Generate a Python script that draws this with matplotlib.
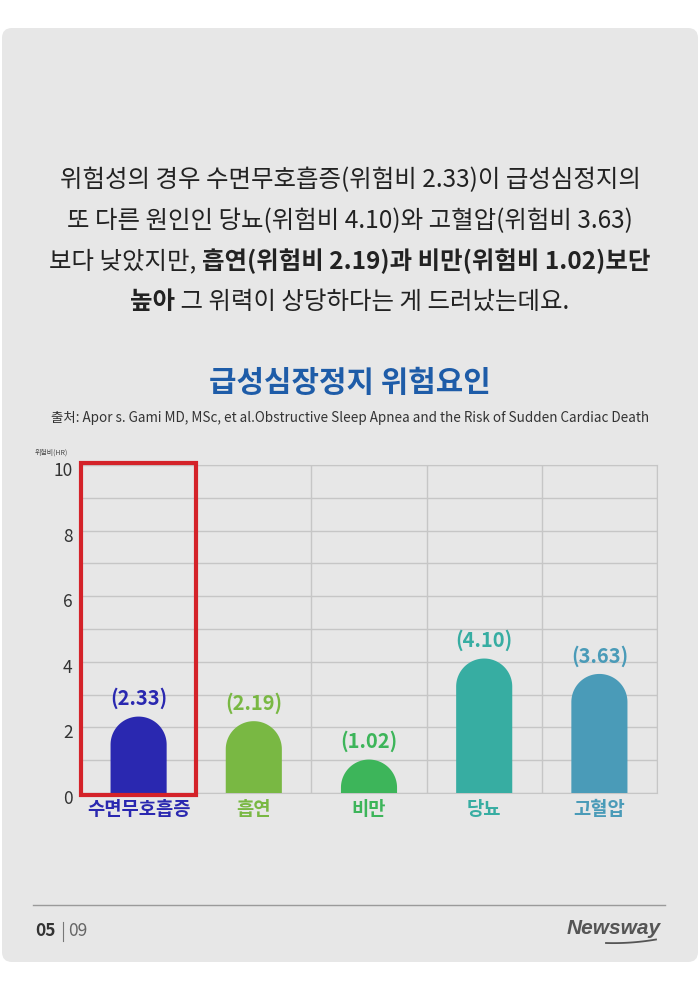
import numpy as np
import matplotlib
matplotlib.use("Agg")
import matplotlib.pyplot as plt
from matplotlib.patches import FancyBboxPatch, Rectangle, Polygon
from matplotlib.transforms import offset_copy

plt.rcParams['font.family'] = ['Noto Sans CJK KR', 'DejaVu Sans']

# data
categories = ["수면무호흡증", "흡연", "비만", "당뇨", "고혈압"]
hazard_ratio = [2.33, 2.19, 1.02, 4.10, 3.63]
bar_colors = ["#2a28b0", "#79b843", "#3db55a", "#37ada2", "#4a9bb8"]
y_ticks = [0, 2, 4, 6, 8, 10]

title = "급성심장정지 위험요인"
source = "출처: Apor s. Gami MD, MSc, et al.Obstructive Sleep Apnea and the Risk of Sudden Cardiac Death"
paragraph = [
    [("위험성의 경우 수면무호흡증(위험비 2.33)이 급성심정지의", "normal")],
    [("또 다른 원인인 당뇨(위험비 4.10)와 고혈압(위험비 3.63)", "normal")],
    [("보다 낮았지만, ", "normal"), ("흡연(위험비 2.19)과 비만(위험비 1.02)보단", "bold")],
    [("높아", "bold"), (" 그 위력이 상당하다는 게 드러났는데요.", "normal")],
]

W, H = 700, 990
fig = plt.figure(figsize=(W / 100, H / 100), dpi=100, facecolor="white")

# background / page in pixel coordinates
bg = fig.add_axes([0, 0, 1, 1], zorder=0)
bg.set_xlim(0, W)
bg.set_ylim(H, 0)
bg.axis("off")
bg.add_patch(FancyBboxPatch((2, 28), 696, 934, boxstyle="round,pad=0,rounding_size=10",
                            facecolor="#e7e7e7", edgecolor="none"))

renderer = fig.canvas.get_renderer()


def draw_line(y, segments, size, color="#222222"):
    texts, widths = [], []
    for s, wt in segments:
        t = bg.text(0, y, s, fontsize=size, fontweight=wt, color=color, ha="left", va="center")
        widths.append(t.get_window_extent(renderer).width)
        texts.append(t)
    x = W / 2 - sum(widths) / 2
    for t, w in zip(texts, widths):
        t.set_x(x)
        x += w


for i, segs in enumerate(paragraph):
    draw_line(180 + i * 40.7, segs, 17.6)

bg.text(W / 2, 383, title, fontsize=21.5, fontweight="bold", color="#1e5ca8", ha="center", va="center")
bg.text(W / 2, 418, source, fontsize=9.7, color="#333333", ha="center", va="center")
bg.text(35, 453, "위험비(HR)", fontsize=5, color="#444444", ha="left", va="center")

# footer
bg.plot([33, 665], [905, 905], color="#9a9a9a", lw=1)
bg.text(35, 931, "05", fontsize=12.5, fontweight="bold", color="#333333", ha="left", va="center")
bg.plot([63, 63], [922, 941], color="#777777", lw=0.8)
bg.text(68, 931, "09", fontsize=12.5, color="#666666", ha="left", va="center")
bg.text(661, 928, "Newsway", fontsize=15, fontweight="bold", style="italic", color="#555555",
        family="Liberation Sans", ha="right", va="center")
t = np.linspace(0, 1, 30)
bg.plot(606 + 50 * t, 943 - 5 * t ** 2 + 1.5 * t, color="#555555", lw=1.3)

# chart
left, right, top, bottom = 81, 657, 465, 793
ax = fig.add_axes([left / W, 1 - bottom / H, (right - left) / W, (bottom - top) / H], zorder=1)
ax.set_facecolor("none")
ax.set_xlim(-0.5, len(categories) - 0.5)
ax.set_ylim(0, 10)
ax.set_yticks(y_ticks)
ax.set_yticks(np.arange(0, 11, 1), minor=True)
ax.set_xticks(np.arange(len(categories)))
ax.set_xticks(np.arange(len(categories) + 1) - 0.5, minor=True)
ax.grid(which="minor", color="#c6c6c6", lw=1)
ax.grid(which="major", axis="y", color="#c6c6c6", lw=1)
for s in ax.spines.values():
    s.set_color("#c6c6c6")
ax.tick_params(which="both", length=0)
ax.tick_params(axis="y", labelsize=12.5, labelcolor="#333333", pad=6)
for lbl in ax.get_yticklabels():
    lbl.set_transform(offset_copy(lbl.get_transform(), fig=fig, x=0, y=-4, units="dots"))
ax.set_xticklabels(categories, fontsize=13.5, fontweight="bold")
for lbl, c in zip(ax.get_xticklabels(), bar_colors):
    lbl.set_color(c)
ax.tick_params(axis="x", pad=5)

px_x = (right - left) / (len(categories))
px_y = (bottom - top) / 10
bar_w = 0.487
rx = bar_w / 2
ry = rx * px_x / px_y
theta = np.linspace(np.pi, 0, 60)
for i, (v, c) in enumerate(zip(hazard_ratio, bar_colors)):
    base = max(v - ry, 0)
    xs = np.concatenate([[i - rx], i + rx * np.cos(theta), [i + rx]])
    ys = np.concatenate([[0], base + ry * np.sin(theta), [0]])
    ax.add_patch(Polygon(np.column_stack([xs, ys]), closed=True, facecolor=c, edgecolor="none", zorder=3))
    ax.text(i, v + 0.22, f"({v:.2f})", fontsize=14.5, fontweight="bold", color=c,
            ha="center", va="bottom", zorder=4)

ax.add_patch(Rectangle((-0.5, -0.05), 1.0, 10.1, fill=False, edgecolor="#d42229", lw=3,
                       clip_on=False, zorder=5))

fig.savefig("out.png", dpi=100, facecolor="white")
